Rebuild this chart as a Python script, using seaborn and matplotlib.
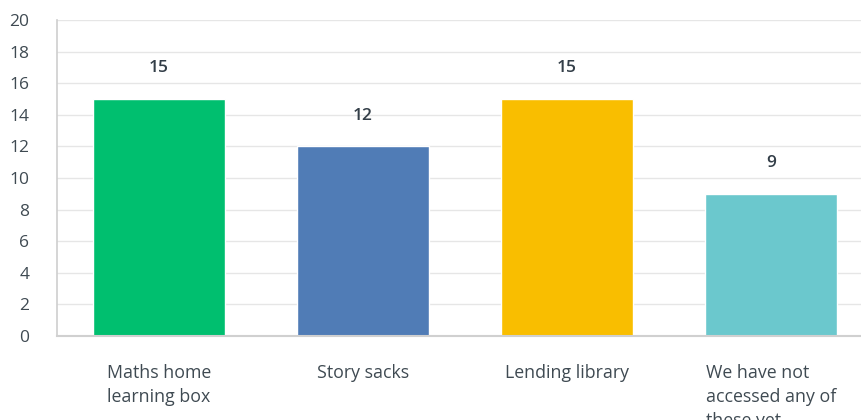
import matplotlib
matplotlib.use("Agg")
import matplotlib.pyplot as plt
import seaborn as sns
import pandas as pd

categories = ["Maths home\nlearning box", "Story sacks", "Lending library", "We have not\naccessed any of\nthese yet"]
values = [15, 12, 15, 9]
colors = ["#00BF6F", "#507CB6", "#F9BE00", "#6BC8CD"]
yticks = [0, 2, 4, 6, 8, 10, 12, 14, 16, 18, 20]

sns.set_theme(style="white")
plt.rcParams["font.family"] = ["Open Sans", "DejaVu Sans"]

df = pd.DataFrame({"cat": categories, "val": values})

fig = plt.figure(figsize=(8.62, 4.2), dpi=100)
ax = fig.add_axes([57/862, 84/420, 816/862, 316/420])
sns.barplot(data=df, x="cat", y="val", hue="cat", palette=colors, width=0.65,
            legend=False, ax=ax, saturation=1)

ax.set_ylim(0, 20)
ax.set_xlim(-0.5, 3.5)
ax.set_yticks(yticks)
ax.set_yticklabels([str(t) for t in yticks])
ax.yaxis.grid(True, color="#e6e6e6", linewidth=1)
ax.set_axisbelow(True)
ax.set_xlabel("")
ax.set_ylabel("")
for s in ["top", "right"]:
    ax.spines[s].set_visible(False)
ax.spines["left"].set_color("#d0d0d0")
ax.spines["bottom"].set_color("#d0d0d0")
ax.spines["bottom"].set_linewidth(1.5)
ax.tick_params(axis="y", length=0, pad=20, labelsize=12.5, labelcolor="#3f4a52")
ax.tick_params(axis="x", length=0, pad=20, labelsize=12.8, labelcolor="#3f4a52")
for lab in ax.get_xticklabels():
    lab.set_multialignment("left")
    lab.set_verticalalignment("top")
    lab.set_linespacing(1.45)

for i, v in enumerate(values):
    ax.text(i, v + 1.95, str(v), ha="center", va="center", fontsize=12.5,
            color="#333e48", fontweight="semibold")

fig.savefig("out.png", dpi=100)
